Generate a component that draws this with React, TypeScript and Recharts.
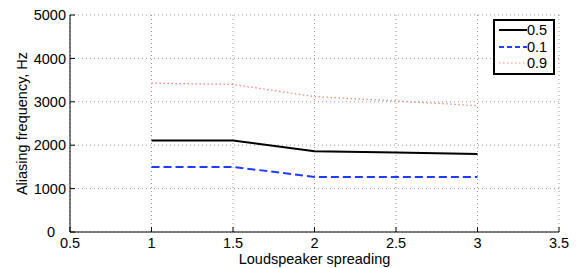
import React from 'react';
import {
	LineChart,
	Line,
	XAxis,
	YAxis,
	CartesianGrid,
} from 'recharts';

// loudspeaker spreading values
const spreading = [1, 1.5, 2, 2.5, 3];
// aliasing frequency (Hz) for each parameter value
const series05 = [2110, 2110, 1860, 1830, 1800];
const series01 = [1500, 1500, 1270, 1270, 1270];
const series09 = [3430, 3400, 3120, 3020, 2910];

const xTicks = [0.5, 1, 1.5, 2, 2.5, 3, 3.5];
const yTicks = [0, 1000, 2000, 3000, 4000, 5000];

const data = spreading.map((s, i) => ({
	s,
	a: series05[i],
	b: series01[i],
	c: series09[i],
}));

const legendItems = [
	{ name: '0.5', color: '#000000', dash: undefined, width: 2 },
	{ name: '0.1', color: '#1f3cff', dash: '5 3', width: 2 },
	{ name: '0.9', color: '#ff8a7a', dash: '1.5 2.5', width: 1.2 },
];

const font = 'Liberation Sans, Arial, Helvetica, sans-serif';

// legend drawn on top of the chart (recharts Legend would steal plot space)
const LegendBox = () => (
	<div
		style={{
			position: 'absolute',
			left: 493,
			top: 19,
			border: '2px solid #000',
			background: '#fff',
			width: 58,
			height: 51,
			boxSizing: 'content-box',
			fontFamily: font,
			fontSize: 14.5,
			color: '#000',
			paddingTop: 1,
			lineHeight: 1,
		}}
	>
		{legendItems.map((it) => (
			<div key={it.name} style={{ display: 'flex', alignItems: 'center', height: 16.5 }}>
				<svg width={34} height={10} style={{ marginLeft: 4 }}>
					<line
						x1={0}
						y1={5}
						x2={28}
						y2={5}
						stroke={it.color}
						strokeWidth={it.width}
						strokeDasharray={it.dash}
					/>
				</svg>
				<span style={{ marginLeft: -6 }}>{it.name}</span>
			</div>
		))}
	</div>
);

// matlab puts the "0" label a bit further left than the others
const YTick = (props: any) => {
	const { x, y, payload } = props;
	const shift = payload.value === 0 ? -11 : 0;
	return (
		<text
			x={x + shift}
			y={y}
			dy="0.355em"
			textAnchor="end"
			fill="#000"
			fontSize={14.5}
			fontFamily={font}
		>
			{payload.value}
		</text>
	);
};

const App: React.FC = () => {
	return (
		<div style={{ position: 'absolute', left: 0, top: 0, width: 577, height: 268, background: '#fff' }}>
			<LineChart
				width={577}
				height={268}
				data={data}
				margin={{ top: 15, right: 18, left: 0, bottom: 0 }}
			>
				<CartesianGrid
					stroke="#999"
					strokeDasharray="1 3"
					horizontalValues={yTicks}
					verticalValues={xTicks}
				/>
				<XAxis
					dataKey="s"
					type="number"
					domain={[0.5, 3.5]}
					ticks={xTicks}
					height={36}
					stroke="#000"
					tickSize={-5}
					tickMargin={11}
					tick={{ fill: '#000', fontSize: 14.5, fontFamily: font }}
					label={{
						value: 'Loudspeaker spreading',
						position: 'insideBottom',
						offset: 4,
						fill: '#000',
						fontSize: 14.5,
						fontFamily: font,
					}}
				/>
				<YAxis
					type="number"
					domain={[0, 5000]}
					ticks={yTicks}
					width={70}
					stroke="#000"
					tickSize={-5}
					tickMargin={9}
					tick={<YTick />}
					label={{
						value: 'Aliasing frequency, Hz',
						angle: -90,
						position: 'center',
						dx: -13,
						fill: '#000',
						fontSize: 14.5,
						fontFamily: font,
					}}
				/>
				<Line
					type="linear"
					dataKey="a"
					stroke="#000"
					strokeWidth={2}
					dot={false}
					isAnimationActive={false}
				/>
				<Line
					type="linear"
					dataKey="b"
					stroke="#1f3cff"
					strokeWidth={2}
					strokeDasharray="8 4"
					dot={false}
					isAnimationActive={false}
				/>
				<Line
					type="linear"
					dataKey="c"
					stroke="#ff8a7a"
					strokeWidth={1.3}
					strokeDasharray="1.5 2.5"
					dot={false}
					isAnimationActive={false}
				/>
			</LineChart>
			<LegendBox />
		</div>
	);
};

export default App;
